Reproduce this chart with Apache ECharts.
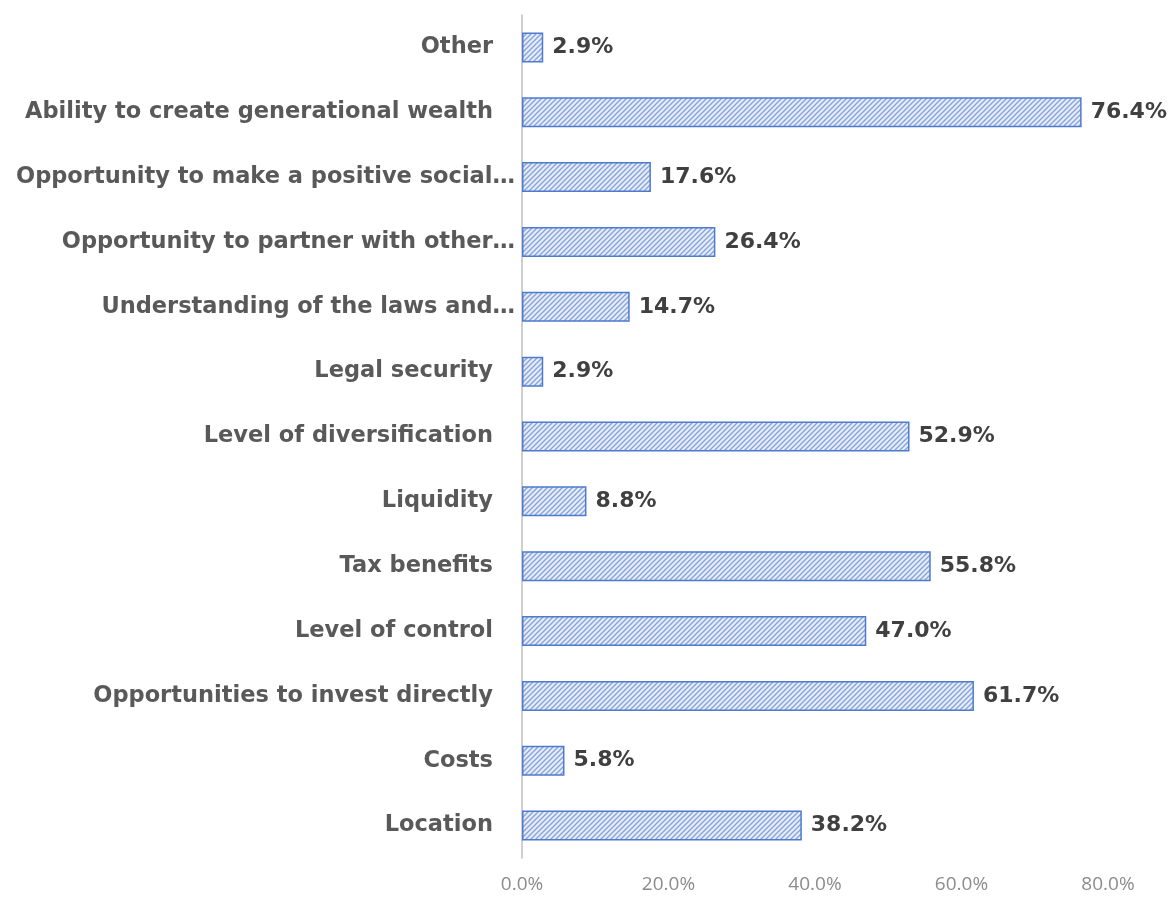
<!DOCTYPE html>
<html>
<head>
<meta charset="utf-8">
<script src="https://cdn.jsdelivr.net/npm/echarts@6/dist/echarts.min.js"></script>
<style>
  html, body { margin: 0; padding: 0; background: #ffffff; }
  #chart { width: 1170px; height: 897px; }
</style>
</head>
<body>
<div id="chart"></div>
<script>
// Reasons cited, listed bottom to top as drawn on the category axis
const categories = [
  'Location',
  'Costs',
  'Opportunities to invest directly',
  'Level of control',
  'Tax benefits',
  'Liquidity',
  'Level of diversification',
  'Legal security',
  'Understanding of the laws and…',
  'Opportunity to partner with other…',
  'Opportunity to make a positive social…',
  'Ability to create generational wealth',
  'Other'
];
// Share of respondents, percent
const shares = [38.2, 5.8, 61.7, 47.0, 55.8, 8.8, 52.9, 2.9, 14.7, 26.4, 17.6, 76.4, 2.9];
// Value axis ticks
const axisMax = 80;
const axisStep = 20;

const boldFace = '"DejaVu Sans", "Noto Sans", sans-serif';

// Diagonal hatch tile used as the bar fill
function hatchTile() {
  const c = document.createElement('canvas');
  c.width = 5; c.height = 5;
  const g = c.getContext('2d');
  g.fillStyle = '#e6ecf8';
  g.fillRect(0, 0, 5, 5);
  g.strokeStyle = '#86a3dc';
  g.lineWidth = 1.4;
  g.beginPath();
  g.moveTo(-1, 6); g.lineTo(6, -1);
  g.moveTo(-3.5, 3.5); g.lineTo(3.5, -3.5);
  g.moveTo(1.5, 8.5); g.lineTo(8.5, 1.5);
  g.stroke();
  return c;
}

const chart = echarts.init(document.getElementById('chart'));
chart.setOption({
  animation: false,
  textStyle: { fontFamily: '"Open Sans", "Noto Sans", sans-serif' },
  grid: { left: 522, right: 62, top: 15, bottom: 39, containLabel: false },
  xAxis: {
    type: 'value',
    min: 0,
    max: axisMax,
    interval: axisStep,
    axisLine: { show: false },
    axisTick: { show: false },
    splitLine: { show: false },
    axisLabel: {
      margin: 17,
      color: '#8c8c8c',
      fontSize: 19,
      formatter: v => v.toFixed(1) + '%'
    }
  },
  yAxis: {
    type: 'category',
    data: categories,
    axisLine: { show: true, lineStyle: { color: '#bfbfbf', width: 1.5 } },
    axisTick: { show: false },
    axisLabel: {
      margin: 5,
      formatter: v => v.endsWith('…') ? '{cut|' + v + '}' : '{full|' + v + '}',
      rich: {
        full: { color: '#595959', fontSize: 22.5, fontWeight: 'bold', padding: [0, 24, 0, 0],
                fontFamily: boldFace },
        cut: { color: '#595959', fontSize: 22.5, fontWeight: 'bold', padding: [0, 2, 0, 0],
               fontFamily: boldFace }
      }
    }
  },
  series: [{
    type: 'bar',
    data: shares,
    barWidth: 30,
    itemStyle: {
      color: { image: hatchTile(), repeat: 'repeat' },
      borderColor: '#4f7bcf',
      borderWidth: 1.5
    },
    label: {
      show: true,
      position: 'right',
      distance: 9,
      color: '#404040',
      fontSize: 22,
      fontWeight: 'bold',
      fontFamily: boldFace,
      formatter: p => p.value.toFixed(1) + '%'
    }
  }]
});
</script>
</body>
</html>
